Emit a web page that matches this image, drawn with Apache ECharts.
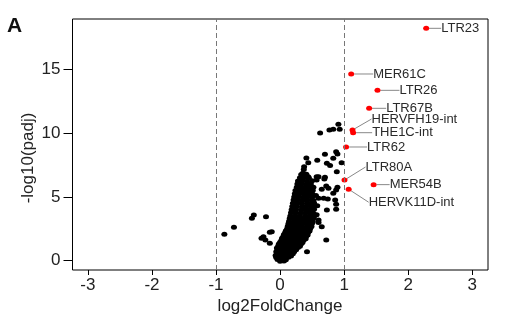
<!DOCTYPE html>
<html>
<head>
<meta charset="utf-8">
<script src="https://cdn.jsdelivr.net/npm/echarts@6/dist/echarts.min.js"></script>
<style>
  html, body { margin: 0; padding: 0; background: #fff; }
  #chart { width: 522px; height: 318px; }
</style>
</head>
<body>
<div id="chart"></div>
<script>
// significant repeats (red)
const sigNames = ['LTR23', 'MER61C', 'LTR26', 'LTR67B', 'HERVFH19-int', 'THE1C-int', 'LTR62', 'LTR80A', 'MER54B', 'HERVK11D-int']
const sigLfc = [2.28, 1.11, 1.52, 1.39, 1.13, 1.14, 1.03, 1.005, 1.46, 1.07]
const sigPadj = [18.21, 14.63, 13.35, 11.94, 10.24, 10.03, 8.91, 6.32, 5.96, 5.6]

// other repeats (black) as [log2FoldChange, -log10(padj)]
const otherPoints = [
  // scattered points
  [0.91, 10.69], [0.93, 10.3], [0.83, 10.3], [0.77, 10.24], [0.625, 10.01],
  [0.875, 8.54], [0.895, 8.36], [0.7, 8.34], [0.83, 8.03], [0.58, 7.87],
  [0.41, 8.05], [0.44, 7.68], [0.375, 7.37], [0.73, 7.63], [0.78, 7.45],
  [0.96, 7.68], [0.355, 6.85], [0.44, 6.58], [0.6, 6.58], [0.885, 6.97],
  [0.69, 6.4], [0.57, 6.32], [0.7, 6.54], [0.72, 5.85], [0.65, 5.6],
  [0.755, 5.67], [0.895, 5.75], [0.875, 5.54], [0.6, 4.89], [0.745, 4.84],
  [0.68, 4.89], [0.83, 5.28], [0.86, 4.76], [0.73, 3.97], [0.875, 4.03],
  [0.875, 4.42], [0.65, 2.66], [0.6, 3.19], [0.72, 1.62], [0.42, 0.7],
  [-0.44, 3.32], [-0.41, 3.58], [-0.22, 3.45], [-0.72, 2.62], [-0.87, 2.07],
  [-0.16, 2.23], [-0.26, 1.88], [-0.23, 1.62], [-0.29, 1.76], [-0.16, 1.36],
  [-0.13, 2.27], [0.57, 6.58], [0.57, 3.6], [0.58, 4.3], [0.56, 5.1], [0.6, 3.0],
  // dense core
  [0.0, -0.05], [0.06, -0.02],
  [-0.04, 0.1], [0.03, 0.12], [0.09, 0.08],
  [-0.06, 0.25], [0.01, 0.27], [0.07, 0.22], [0.13, 0.26],
  [-0.07, 0.4], [0.0, 0.38], [0.06, 0.42], [0.12, 0.4], [0.17, 0.37],
  [-0.05, 0.55], [0.02, 0.57], [0.09, 0.53], [0.15, 0.56], [0.2, 0.55],
  [-0.06, 0.7], [0.03, 0.72], [0.1, 0.68], [0.17, 0.71], [0.22, 0.7],
  [-0.04, 0.85], [0.04, 0.86], [0.11, 0.83], [0.19, 0.87], [0.25, 0.85],
  [-0.05, 1.0], [0.02, 1.02], [0.08, 0.98], [0.15, 1.01], [0.22, 1.0], [0.28, 1.03],
  [-0.03, 1.15], [0.05, 1.17], [0.12, 1.13], [0.19, 1.16], [0.26, 1.15], [0.31, 1.14],
  [-0.02, 1.3], [0.06, 1.32], [0.13, 1.28], [0.2, 1.31], [0.27, 1.3], [0.33, 1.33],
  [0.0, 1.45], [0.08, 1.47], [0.15, 1.43], [0.23, 1.46], [0.3, 1.45], [0.35, 1.42],
  [0.02, 1.6], [0.1, 1.62], [0.17, 1.58], [0.25, 1.61], [0.32, 1.6], [0.37, 1.63],
  [0.03, 1.75], [0.11, 1.77], [0.18, 1.73], [0.26, 1.76], [0.34, 1.75], [0.4, 1.72],
  [0.05, 1.9], [0.12, 1.92], [0.2, 1.88], [0.28, 1.91], [0.35, 1.9], [0.41, 1.93],
  [0.06, 2.05], [0.14, 2.07], [0.21, 2.03], [0.29, 2.06], [0.37, 2.05], [0.43, 2.02],
  [0.08, 2.2], [0.15, 2.22], [0.23, 2.18], [0.3, 2.21], [0.38, 2.2], [0.44, 2.23],
  [0.09, 2.35], [0.17, 2.37], [0.24, 2.33], [0.32, 2.36], [0.4, 2.35], [0.46, 2.32],
  [0.11, 2.5], [0.18, 2.52], [0.25, 2.48], [0.33, 2.51], [0.41, 2.5], [0.47, 2.53],
  [0.12, 2.7], [0.19, 2.72], [0.27, 2.68], [0.34, 2.71], [0.42, 2.7], [0.49, 2.67],
  [0.13, 2.9], [0.21, 2.92], [0.28, 2.88], [0.36, 2.91], [0.43, 2.9], [0.5, 2.93],
  [0.14, 3.1], [0.22, 3.12], [0.29, 3.08], [0.37, 3.11], [0.44, 3.1], [0.51, 3.07],
  [0.15, 3.3], [0.23, 3.32], [0.3, 3.28], [0.38, 3.31], [0.45, 3.3], [0.52, 3.33],
  [0.16, 3.5], [0.24, 3.52], [0.31, 3.48], [0.39, 3.51], [0.46, 3.5], [0.53, 3.47],
  [0.17, 3.75], [0.24, 3.77], [0.32, 3.73], [0.4, 3.76], [0.47, 3.75], [0.52, 3.72],
  [0.18, 4.0], [0.25, 4.02], [0.33, 3.98], [0.4, 4.01], [0.47, 4.0], [0.53, 4.03],
  [0.19, 4.25], [0.26, 4.27], [0.34, 4.23], [0.41, 4.26], [0.48, 4.25], [0.52, 4.22],
  [0.2, 4.5], [0.27, 4.52], [0.34, 4.48], [0.42, 4.51], [0.49, 4.5], [0.53, 4.53],
  [0.21, 4.75], [0.28, 4.77], [0.35, 4.73], [0.42, 4.76], [0.49, 4.75], [0.52, 4.72],
  [0.22, 5.0], [0.29, 5.02], [0.36, 4.98], [0.43, 5.01], [0.5, 5.0],
  [0.23, 5.25], [0.3, 5.27], [0.37, 5.23], [0.44, 5.26], [0.5, 5.25],
  [0.24, 5.5], [0.31, 5.52], [0.38, 5.48], [0.45, 5.51], [0.51, 5.5],
  [0.26, 5.75], [0.33, 5.77], [0.4, 5.73], [0.47, 5.76], [0.52, 5.75],
  [0.27, 6.0], [0.34, 6.02], [0.41, 5.98], [0.48, 6.01],
  [0.28, 6.25], [0.35, 6.27], [0.42, 6.23], [0.5, 6.26],
  [0.31, 6.5], [0.38, 6.52], [0.45, 6.48],
  [0.33, 6.75], [0.41, 6.77],
  [0.37, 7.15]
]

const xTicks = [-3, -2, -1, 0, 1, 2, 3]
const yTicks = [0, 5, 10, 15]
const cutoffs = [-1, 1]

// label nudges in pixels (dx, dy) for the red point names
const labelNudge = [
  [12, 0], [19, 0], [19, 0], [14, 0], [16, -11],
  [16, 0], [18, 0], [18, -13], [13, 0], [17, 13]
]

const textFont = 'Liberation Sans, Arial, sans-serif'

const chart = echarts.init(document.getElementById('chart'))

const option = {
  animation: false,
  backgroundColor: '#fff',
  grid: {
    left: 72.5,
    right: 34,
    top: 19,
    bottom: 48,
    show: true,
    borderColor: '#000',
    borderWidth: 1,
    backgroundColor: 'transparent',
  },
  xAxis: {
    type: 'value',
    min: -3.24,
    max: 3.245,
    axisLine: { show: false, onZero: false },
    splitLine: { show: false },
    axisTick: {
      show: true,
      length: 5,
      customValues: xTicks,
      lineStyle: { color: '#000' },
    },
    axisLabel: {
      customValues: xTicks,
      margin: 7,
      color: '#222',
      fontSize: 17,
      fontFamily: textFont,
    },
  },
  yAxis: {
    type: 'value',
    min: -0.73,
    max: 18.94,
    axisLine: { show: false, onZero: false },
    splitLine: { show: false },
    axisTick: {
      show: true,
      length: 9,
      customValues: yTicks,
      lineStyle: { color: '#000' },
    },
    axisLabel: {
      customValues: yTicks,
      margin: 12,
      color: '#222',
      fontSize: 17,
      fontFamily: textFont,
    },
  },
  graphic: [
    {
      type: 'text',
      left: 7,
      top: 16,
      style: { text: 'A', font: 'bold 21px ' + textFont, fill: '#111' },
    },
    {
      type: 'text',
      x: 28,
      y: 158,
      rotation: Math.PI / 2,
      style: {
        text: '-log10(padj)',
        font: '17px ' + textFont,
        fill: '#222',
        align: 'center',
        verticalAlign: 'middle',
      },
    },
    {
      type: 'text',
      x: 280,
      y: 306,
      style: {
        text: 'log2FoldChange',
        font: '17px ' + textFont,
        fill: '#222',
        align: 'center',
        verticalAlign: 'middle',
      },
    },
  ],
  series: [
    {
      name: 'other',
      type: 'scatter',
      data: otherPoints,
      symbol: 'circle',
      symbolSize: [6, 5],
      itemStyle: { color: '#000', opacity: 1 },
      markLine: {
        silent: true,
        symbol: 'none',
        label: { show: false },
        lineStyle: { color: '#777', type: [5, 3], width: 1 },
        data: cutoffs.map((v) => ({ xAxis: v })),
      },
      z: 2,
    },
    {
      name: 'significant',
      type: 'scatter',
      data: sigLfc.map((x, i) => ({ name: sigNames[i], value: [x, sigPadj[i]] })),
      symbol: 'circle',
      symbolSize: [6, 5],
      itemStyle: { color: '#ff0000', opacity: 1 },
      label: {
        show: true,
        position: 'right',
        distance: 0,
        formatter: (p) => p.name,
        color: '#2a2a2a',
        fontSize: 13,
        fontFamily: textFont,
      },
      labelLine: {
        show: true,
        length2: 0,
        lineStyle: { color: '#888', width: 1 },
      },
      labelLayout: (params) => {
        const n = labelNudge[params.dataIndex] || [0, 0]
        return { dx: n[0], dy: n[1] }
      },
      z: 3,
    },
  ],
}

chart.setOption(option)
</script>
</body>
</html>
